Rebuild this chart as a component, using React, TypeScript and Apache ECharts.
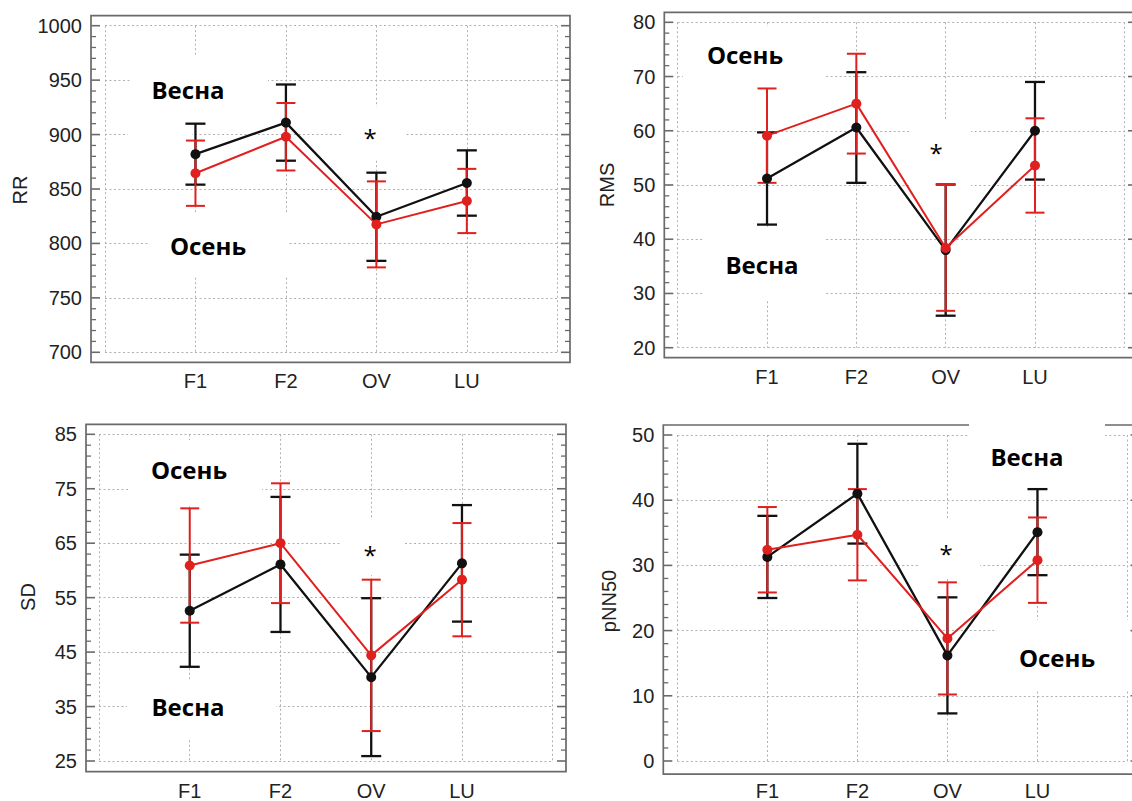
import React, { useEffect, useRef } from "react";
import * as echarts from "echarts";

// Category axis: blank slots at both ends give the outer vertical grid lines
const categories = ["", "F1", "F2", "OV", "LU", ""];
const groups = ["F1", "F2", "OV", "LU"];

// RR
const rrSpring = [882, 911, 824.5, 855.5];
const rrSpringErr = [28, 35, 40.5, 30];
const rrAutumn = [864.5, 898, 817.5, 839];
const rrAutumnErr = [30, 31, 39.5, 29.5];
const rrAxis = [700, 1000, 50];

// RMS
const rmsSpring = [51.2, 60.6, 38, 60];
const rmsSpringErr = [8.5, 10.2, 12.1, 9];
const rmsAutumn = [59.1, 65, 38.4, 53.6];
const rmsAutumnErr = [8.7, 9.2, 11.6, 8.7];
const rmsAxis = [20, 80, 10];

// SD
const sdSpring = [52.6, 61.1, 40.4, 61.3];
const sdSpringErr = [10.3, 12.4, 14.5, 10.7];
const sdAutumn = [60.9, 65, 44.4, 58.3];
const sdAutumnErr = [10.5, 11, 13.9, 10.4];
const sdAxis = [25, 85, 10];

// pNN50
const pnnSpring = [31.3, 41, 16.2, 35.1];
const pnnSpringErr = [6.3, 7.65, 8.9, 6.6];
const pnnAutumn = [32.4, 34.7, 18.8, 30.8];
const pnnAutumnErr = [6.55, 7, 8.6, 6.55];
const pnnAxis = [0, 50, 10];

const SPRING = "Весна";
const AUTUMN = "Осень";
const STAR = "*";

const BLACK = "#111111";
const RED = "#e0201e";
const FRAME = "#6a6a6a";
const GRIDC = "#b0b0b0";
const TEXT = "#222222";
const AXIS_FONT = "'Liberation Sans', Arial, sans-serif";
const NOTE_FONT = "'Open Sans', 'Noto Sans', sans-serif";

// minor ticks split each labelled step into this many parts
const MINOR_SPLIT = 5;

type Panel = {
  title: string;
  spring: number[];
  springErr: number[];
  autumn: number[];
  autumnErr: number[];
  axis: number[];
  grid: { left: number; top: number; width: number; height: number };
  frame: [number, number, number, number];
  yOffsetL: number;
  yOffsetR: number;
  xOffset: number;
  titlePos: [number, number];
  springPos: [number, number];
  autumnPos: [number, number];
  starPos: [number, number];
  patches: [number, number, number, number][];
};

const panels: Panel[] = [
  {
    title: "RR",
    spring: rrSpring, springErr: rrSpringErr, autumn: rrAutumn, autumnErr: rrAutumnErr, axis: rrAxis,
    grid: { left: 105, top: 25.7, width: 452.3, height: 326.6 },
    frame: [91, 15.7, 570, 362.3],
    yOffsetL: 14, yOffsetR: 12.7, xOffset: 10,
    titlePos: [20, 190],
    springPos: [188, 89], autumnPos: [208, 245], starPos: [370, 132],
    patches: [[130, 57, 268, 122], [128, 122, 192, 145], [148, 213, 287, 277], [342, 107, 405, 160]],
  },
  {
    title: "RMS",
    spring: rmsSpring, springErr: rmsSpringErr, autumn: rmsAutumn, autumnErr: rmsAutumnErr, axis: rmsAxis,
    grid: { left: 677.7, top: 22.3, width: 446.6, height: 325.4 },
    frame: [664.3, 12.3, 1137, 357.7],
    yOffsetL: 13.4, yOffsetR: 12.7, xOffset: 10,
    titlePos: [607, 185],
    springPos: [762, 264], autumnPos: [745, 54], starPos: [936, 147],
    patches: [[683, 27, 824, 92], [704, 228, 824, 300], [909, 120, 971, 192]],
  },
  {
    title: "SD",
    spring: sdSpring, springErr: sdSpringErr, autumn: sdAutumn, autumnErr: sdAutumnErr, axis: sdAxis,
    grid: { left: 99, top: 434.3, width: 453.7, height: 326.7 },
    frame: [86, 424.3, 566, 771.7],
    yOffsetL: 13, yOffsetR: 13.3, xOffset: 10.7,
    titlePos: [28, 597],
    springPos: [188, 706], autumnPos: [189, 469], starPos: [370, 549],
    patches: [[128, 440, 262, 505], [127, 680, 276, 740], [342, 520, 404, 575]],
  },
  {
    title: "pNN50",
    spring: pnnSpring, springErr: pnnSpringErr, autumn: pnnAutumn, autumnErr: pnnAutumnErr, axis: pnnAxis,
    grid: { left: 677.3, top: 435, width: 450.2, height: 328.3 },
    frame: [663.3, 425, 1140, 774.2],
    yOffsetL: 14, yOffsetR: 12, xOffset: 11,
    titlePos: [609, 601],
    springPos: [1027, 456], autumnPos: [1057, 657], starPos: [946, 548],
    patches: [[969, 421, 1105, 490], [997, 620, 1134, 690], [918, 518, 980, 578]],
  },
];

const errorBarRenderer = (color: string, width: number, cap: number) => (_params: any, api: any) => {
  const x = api.value(0);
  const lo = api.coord([x, api.value(1)]);
  const hi = api.coord([x, api.value(2)]);
  const h = cap / 2;
  const style = { stroke: color, lineWidth: width, fill: "none" };
  return {
    type: "group",
    children: [
      { type: "line", shape: { x1: lo[0], y1: lo[1], x2: hi[0], y2: hi[1] }, style },
      { type: "line", shape: { x1: lo[0] - h, y1: lo[1], x2: lo[0] + h, y2: lo[1] }, style },
      { type: "line", shape: { x1: hi[0] - h, y1: hi[1], x2: hi[0] + h, y2: hi[1] }, style },
    ],
  };
};

// Inward ticks on the left and right frame edges, placed through the value axis
const tickRenderer = (offL: number, offR: number) => (params: any, api: any) => {
  const cs = params.coordSys;
  const y = api.coord([0, api.value(1)])[1];
  const len = api.value(2) ? 9 : 5;
  const xl = cs.x - offL;
  const xr = cs.x + cs.width + offR;
  const style = { stroke: FRAME, lineWidth: api.value(2) ? 1.6 : 1.3, fill: "none" };
  return {
    type: "group",
    children: [
      { type: "line", shape: { x1: xl, y1: y, x2: xl + len, y2: y }, style },
      { type: "line", shape: { x1: xr, y1: y, x2: xr - len, y2: y }, style },
    ],
  };
};

const dotted = { color: GRIDC, type: [2, 2.5] as any, width: 1 };

function buildOption() {
  const grid: any[] = [];
  const xAxis: any[] = [];
  const yAxis: any[] = [];
  const series: any[] = [];
  const graphic: any[] = [];

  panels.forEach((p, i) => {
    grid.push({ ...p.grid, containLabel: false });
    xAxis.push({
      type: "category",
      gridIndex: i,
      data: categories,
      boundaryGap: false,
      offset: p.xOffset,
      axisLine: { show: false },
      axisTick: { show: false },
      axisLabel: { interval: 0, color: TEXT, fontSize: 20, fontFamily: AXIS_FONT, margin: 9 },
      splitLine: { show: true, interval: 0, lineStyle: dotted },
    });
    const [min, max, step] = p.axis;
    yAxis.push({
      type: "value",
      gridIndex: i,
      min,
      max,
      interval: step,
      position: "left",
      offset: p.yOffsetL,
      axisLine: { show: false },
      axisTick: { show: false },
      axisLabel: {
        color: TEXT,
        fontSize: 20,
        fontFamily: AXIS_FONT,
        margin: 9,
        formatter: (v: number) => String(v),
      },
      splitLine: { show: true, lineStyle: dotted },
    });

    // tick positions along the value axis: every labelled step and its subdivisions
    const nTicks = Math.round(((max - min) / step) * MINOR_SPLIT);
    const ticks = [];
    for (let k = 0; k <= nTicks; k++) {
      ticks.push([0, min + (k * step) / MINOR_SPLIT, k % MINOR_SPLIT === 0 ? 1 : 0]);
    }
    series.push({
      type: "custom",
      name: p.title + " ticks",
      xAxisIndex: i,
      yAxisIndex: i,
      renderItem: tickRenderer(p.yOffsetL, p.yOffsetR),
      encode: { x: 0, y: 1 },
      data: ticks,
      silent: true,
      z: 1,
    });

    const runs = [
      { name: SPRING, mean: p.spring, err: p.springErr, color: BLACK, lw: 2.3, cap: 20 },
      { name: AUTUMN, mean: p.autumn, err: p.autumnErr, color: RED, lw: 2, cap: 19 },
    ];
    runs.forEach((r) => {
      series.push({
        type: "custom",
        name: r.name + " SD",
        xAxisIndex: i,
        yAxisIndex: i,
        renderItem: errorBarRenderer(r.color, r.lw, r.cap),
        encode: { x: 0, y: [1, 2] },
        data: groups.map((g, k) => [g, r.mean[k] - r.err[k], r.mean[k] + r.err[k]]),
        silent: true,
      });
      series.push({
        type: "line",
        name: r.name,
        xAxisIndex: i,
        yAxisIndex: i,
        data: groups.map((g, k) => [g, r.mean[k]]),
        symbol: "circle",
        symbolSize: 10,
        showSymbol: true,
        itemStyle: { color: r.color },
        lineStyle: { color: r.color, width: r.lw },
        silent: true,
      });
    });

    // plot frame
    const [fx1, fy1, fx2, fy2] = p.frame;
    graphic.push({
      type: "rect",
      z: 1,
      shape: { x: fx1, y: fy1, width: fx2 - fx1, height: fy2 - fy1 },
      style: { fill: "none", stroke: FRAME, lineWidth: 1.7 },
      silent: true,
    });
  });

  // white boxes behind the annotations
  panels.forEach((p) => {
    p.patches.forEach(([x1, y1, x2, y2]) => {
      graphic.push({
        type: "rect",
        z: 1,
        shape: { x: x1, y: y1, width: x2 - x1, height: y2 - y1 },
        style: { fill: "#ffffff", stroke: "none" },
        silent: true,
      });
    });
  });

  panels.forEach((p) => {
    graphic.push({
      type: "text",
      z: 5,
      x: p.titlePos[0],
      y: p.titlePos[1],
      rotation: Math.PI / 2,
      style: {
        text: p.title,
        fill: TEXT,
        font: `20px ${AXIS_FONT}`,
        textAlign: "center",
        textVerticalAlign: "middle",
      },
      silent: true,
    });
    [
      [SPRING, p.springPos],
      [AUTUMN, p.autumnPos],
    ].forEach(([t, pos]: any) => {
      graphic.push({
        type: "text",
        z: 5,
        x: pos[0],
        y: pos[1],
        style: {
          text: t,
          fill: "#000000",
          font: `bold 24px ${NOTE_FONT}`,
          textAlign: "center",
          textVerticalAlign: "middle",
        },
        silent: true,
      });
    });
    graphic.push({
      type: "text",
      z: 5,
      x: p.starPos[0],
      y: p.starPos[1] + 5,
      style: {
        text: STAR,
        fill: "#000000",
        font: `24px ${NOTE_FONT}`,
        textAlign: "center",
        textVerticalAlign: "middle",
      },
      silent: true,
    });
  });

  return {
    animation: false,
    backgroundColor: "#ffffff",
    textStyle: { fontFamily: AXIS_FONT },
    grid,
    xAxis,
    yAxis,
    series,
    graphic,
  };
}

export default function App() {
  const ref = useRef<HTMLDivElement>(null);
  useEffect(() => {
    if (!ref.current) return;
    const chart = echarts.init(ref.current, undefined, { renderer: "svg" });
    chart.setOption(buildOption() as any);
    return () => chart.dispose();
  }, []);
  return (
    <div
      ref={ref}
      style={{ position: "absolute", left: 0, top: 0, width: 1132, height: 801, background: "#fff" }}
    />
  );
}
